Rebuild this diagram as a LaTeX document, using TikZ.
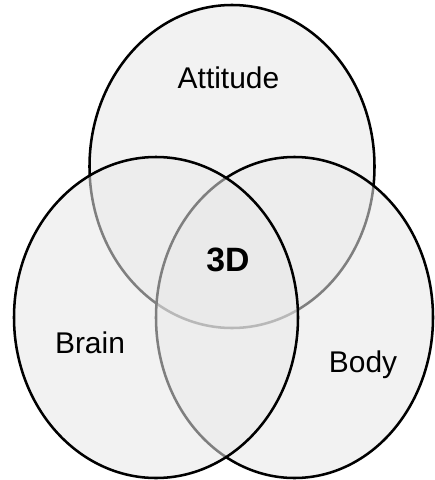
\documentclass[tikz,border=0pt]{standalone}
\usepackage{fontspec}
\setmainfont{Liberation Sans}
\usetikzlibrary{shapes.geometric}

\begin{document}
\begin{tikzpicture}[
      x=0.025cm, y=-0.025cm,
      set/.style={draw=black, ellipse, line width=1.8pt, fill=black!9, fill opacity=0.55, inner sep=0pt, outer sep=0pt},
      lbl/.style={anchor=base, font=\fontsize{21.3}{25}\selectfont}
    ]
    \useasboundingbox (0,0) rectangle (434,480);
    % the three sets, drawn back to front
    \node[set, minimum width=285*0.025cm, minimum height=323*0.025cm] (attitude) at (232,166.5) {};
    \node[set, minimum width=277*0.025cm, minimum height=321*0.025cm] (body) at (294.5,317.5) {};
    \node[set, minimum width=284*0.025cm, minimum height=321*0.025cm] (brain) at (156,317.5) {};

    \node[lbl] (attitudeLbl) at (228.5,88.5) {Attitude};
    \node[lbl] (brainLbl) at (90,353) {Brain};
    \node[lbl] (bodyLbl) at (363,372) {Body};
    \node[lbl, font=\fontsize{24}{28}\selectfont\bfseries] (core) at (228,271.5) {3D};
  \end{tikzpicture}
\end{document}
